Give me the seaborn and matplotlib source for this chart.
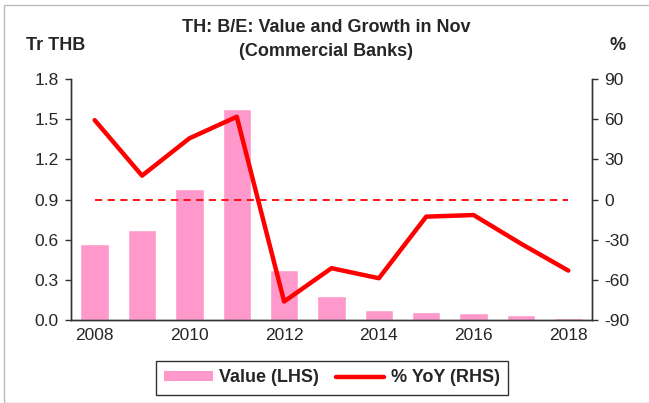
import numpy as np
import pandas as pd
import seaborn as sns
import matplotlib.pyplot as plt
from matplotlib.lines import Line2D
from matplotlib.patches import Patch, Rectangle

years = [2008, 2009, 2010, 2011, 2012, 2013, 2014, 2015, 2016, 2017, 2018]
value_tr = [0.57, 0.67, 0.975, 1.575, 0.375, 0.18, 0.073, 0.06, 0.053, 0.035, 0.015]
yoy_pct = [59.3, 17.8, 45.7, 61.8, -76.2, -51.3, -58.8, -12.8, -11.6, -33.0, -53.1]

df = pd.DataFrame({"year": years, "value": value_tr, "yoy": yoy_pct})
df["pos"] = np.arange(len(df))

sns.set_style("white")
plt.rcParams['font.family'] = ['Liberation Sans', 'DejaVu Sans']
plt.rcParams['axes.unicode_minus'] = False

fig = plt.figure(figsize=(6.49, 4.03), dpi=100)
ax = fig.add_axes([71/649, 83/403, 521/649, 241/403])

pink = "#FF99CC"
red = "#FF0000"
fs = 12.5

sns.barplot(data=df, x="pos", y="value", color=pink, width=0.6, saturation=1,
            ax=ax, native_scale=True)
ax.set_xlim(-0.5, len(df) - 0.5)
ax.set_ylim(0, 1.8)
ax.set_yticks(np.arange(0, 1.81, 0.3))
ax.set_yticklabels([f"{v:.1f}" for v in np.arange(0, 1.81, 0.3)])

ax2 = ax.twinx()
ax2.plot([0, len(df) - 1], [0, 0], color=red, lw=1.3, ls=(0, (4, 3)))
sns.lineplot(data=df, x="pos", y="yoy", color=red, lw=3.2, ax=ax2)
ax2.set_ylim(-90, 90)
ax2.set_yticks(np.arange(-90, 91, 30))
ax2.set_xlim(-0.5, len(df) - 0.5)

# x ticks at category boundaries, labels every other year
ax.set_xticks(np.arange(-0.5, len(df), 1.0))
ax.set_xticklabels([])
ax.set_xticks(df["pos"][::2], minor=True)
ax.set_xticklabels([str(y) for y in df["year"][::2]], minor=True)
ax.tick_params(axis="x", which="major", direction="out", length=4, width=1, color="#333333")
ax.tick_params(axis="x", which="minor", length=0, labelsize=fs, pad=6)
ax.tick_params(axis="y", direction="out", length=4, width=1, color="#333333", labelsize=fs, left=True, pad=5)
ax2.tick_params(axis="y", direction="out", length=4, width=1, color="#333333", labelsize=fs, right=True, pad=5)
ax.set_xlabel("")
ax.set_ylabel("")
ax2.set_xlabel("")
ax2.set_ylabel("")

for a in (ax, ax2):
    a.spines["top"].set_visible(False)
    for s in ("left", "right", "bottom"):
        a.spines[s].set_color("#333333")
        a.spines[s].set_linewidth(1)

fig.text(0.503, 1 - 28/403, "TH: B/E: Value and Growth in Nov", ha="center", va="center",
         fontsize=13, fontweight="bold")
fig.text(0.503, 1 - 51/403, "(Commercial Banks)", ha="center", va="center",
         fontsize=13, fontweight="bold")
fig.text(26/649, 1 - 45/403, "Tr THB", ha="left", va="center", fontsize=13, fontweight="bold")
fig.text(618/649, 1 - 45/403, "%", ha="center", va="center", fontsize=13, fontweight="bold")

handles = [Patch(facecolor=pink, edgecolor="none"),
           Line2D([0], [0], color=red, lw=3.2)]
leg = fig.legend(handles, ["Value (LHS)", "% YoY (RHS)"], loc="center",
                 bbox_to_anchor=(332/649, 1 - 378/403), ncol=2, frameon=True,
                 fancybox=False, edgecolor="black",
                 prop={"weight": "bold", "size": 13}, handlelength=2.7, handleheight=0.5,
                 columnspacing=0.9, handletextpad=0.35, borderpad=0.45, borderaxespad=0)
leg._legend_box.sep = 0
leg.get_frame().set_linewidth(1)
for t in leg.get_texts():
    pass

fig.patches.append(Rectangle((4/649, 0), 1, 1 - 5/403, transform=fig.transFigure,
                             fill=False, edgecolor="#BBBBBB", lw=1))

fig.savefig("out.png", dpi=100)
